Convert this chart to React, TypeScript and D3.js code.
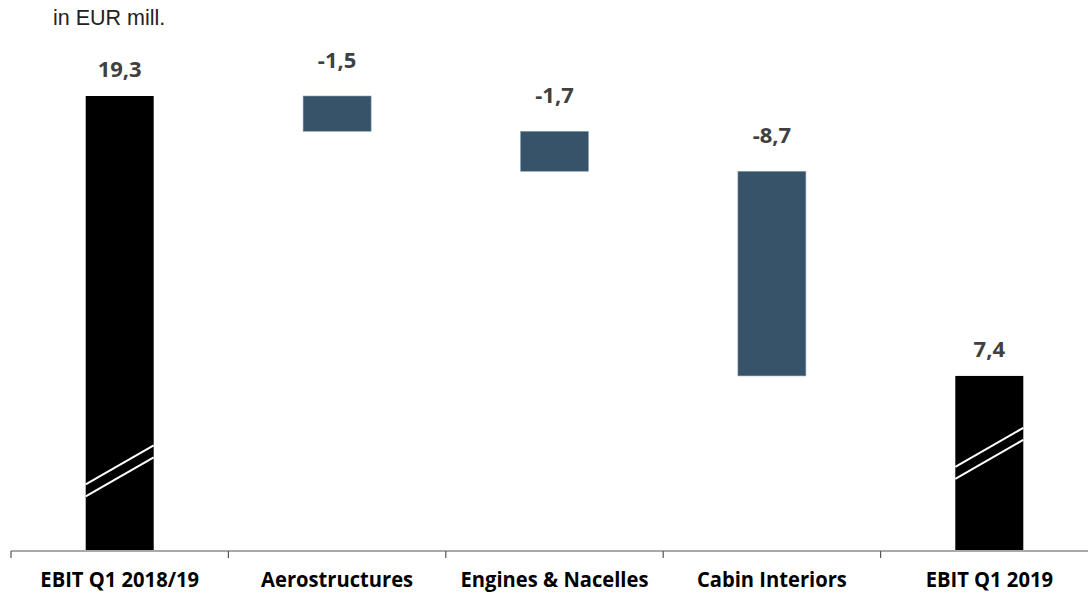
import React from "react";
import * as d3 from "d3";

const categories = ["EBIT Q1 2018/19", "Aerostructures", "Engines & Nacelles", "Cabin Interiors", "EBIT Q1 2019"];
const values = [19.3, -1.5, -1.7, -8.7, 7.4];
const isTotal = [true, false, false, false, true];
const valueLabels = ["19,3", "-1,5", "-1,7", "-8,7", "7,4"];
const breakAt = [3.0, null, null, null, 3.75];

const W = 1088;
const H = 593;

export default function App() {
  const x = d3.scaleBand<string>().domain(categories).range([11, 1098]).paddingInner(0).paddingOuter(0);
  const y = d3.scaleLinear().domain([0, 19.3]).range([550, 96]);
  const bw = 68;

  let running = 0;
  const bars = values.map((v, i) => {
    let lo: number, hi: number;
    if (isTotal[i]) {
      lo = 0;
      hi = v;
      running = v;
    } else {
      const start = running;
      running = running + v;
      lo = Math.min(start, running);
      hi = Math.max(start, running);
    }
    return { cat: categories[i], lo, hi, total: isTotal[i], label: valueLabels[i], brk: breakAt[i] };
  });

  const ticks = [...categories.map((c) => x(c) as number), 11 + x.bandwidth() * categories.length];

  return (
    <svg width={W} height={H} style={{ position: "absolute", left: 0, top: 0 }}>
      <rect width={W} height={H} fill="#fff" />
      <text x={53} y={25} fontFamily="Liberation Sans, Arial, sans-serif" fontSize={21.5} fill="#222">
        in EUR mill.
      </text>
      {bars.map((b, i) => {
        const cx = (x(b.cat) as number) + x.bandwidth() / 2;
        const x0 = cx - bw / 2;
        const yTop = y(b.hi);
        const yBot = y(b.lo);
        return (
          <g key={b.cat}>
            <rect
              x={x0}
              y={yTop}
              width={bw}
              height={yBot - yTop}
              fill={b.total ? "#000" : "#365369"}
              stroke={b.total ? "none" : "#8fa3b3"}
              strokeWidth={b.total ? 0 : 0.6}
            />
            {b.brk != null && (
              <g stroke="#fff" strokeWidth={2}>
                <line x1={x0} y1={y(b.brk) + 11 - 6} x2={x0 + bw} y2={y(b.brk) - 28 - 6} />
                <line x1={x0} y1={y(b.brk) + 11 + 6} x2={x0 + bw} y2={y(b.brk) - 28 + 6} />
              </g>
            )}
            <text
              x={cx}
              y={yTop - (b.total ? 19 : 28)}
              textAnchor="middle"
              fontFamily="Open Sans, sans-serif"
              fontWeight={700}
              fontSize={22}
              fill="#404040"
            >
              {b.label}
            </text>
            <text
              transform={`translate(${cx},587) scale(0.96,1)`}
              textAnchor="middle"
              fontFamily="Open Sans, sans-serif"
              fontWeight={700}
              fontSize={21}
              fill="#000"
            >
              {b.cat}
            </text>
          </g>
        );
      })}
      <line x1={11} x2={1098} y1={551} y2={551} stroke="#555" strokeWidth={1.2} />
      {ticks.map((t, i) => (
        <line key={i} x1={t} x2={t} y1={551} y2={558} stroke="#555" strokeWidth={1.2} />
      ))}
    </svg>
  );
}
